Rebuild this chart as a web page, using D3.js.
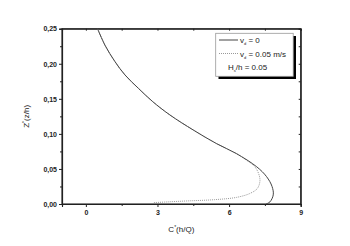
<!DOCTYPE html>
<html>
<head>
<meta charset="utf-8">
<script src="https://cdn.jsdelivr.net/npm/d3@7"></script>
<style>
  body { margin: 0; background: #fff; }
  svg text { font-family: "Liberation Sans", Arial, sans-serif; fill: #222; }
</style>
</head>
<body>
<div id="chart"></div>
<script>
// values: C* (h/Q) against Z* (z/h)
let solidZ = [0.25, 0.2265, 0.203, 0.184, 0.165, 0.146, 0.127, 0.1055, 0.086, 0.072, 0.053, 0.039, 0.025, 0.013, 0.003, 0.0];
let solidC = [0.49, 0.80, 1.22, 1.64, 2.2, 2.8, 3.52, 4.5, 5.48, 6.3, 7.16, 7.57, 7.8, 7.85, 7.71, 7.55];
let dottedZ = [0.25, 0.2265, 0.203, 0.184, 0.165, 0.146, 0.127, 0.1055, 0.086, 0.072, 0.065, 0.053, 0.041, 0.032, 0.022, 0.015, 0.0095, 0.0062, 0.0043, 0.0028, 0.002];
let dottedC = [0.49, 0.80, 1.22, 1.64, 2.2, 2.8, 3.52, 4.5, 5.48, 6.3, 6.62, 7.08, 7.26, 7.29, 7.18, 6.87, 6.32, 5.4, 4.2, 3.3, 2.85];
let xTicks = [0, 3, 6, 9];
let xMinor = [1.5, 4.5, 7.5];
let yTicks = [0, 0.05, 0.10, 0.15, 0.20, 0.25];
let yMinor = [0.025, 0.075, 0.125, 0.175, 0.225];

var w = 350, h = 246;
var margin = { top: 28.7, left: 62, right: 49.3, bottom: 42 };
var width = w - margin.left - margin.right;
var height = h - margin.top - margin.bottom;

var svg = d3.select('#chart').append('svg')
  .attr('width', w)
  .attr('height', h);

var x = d3.scaleLinear().domain([-1, 9]).range([0, width]);
var y = d3.scaleLinear().domain([0, 0.25]).range([height, 0]);

var chart = svg.append('g')
  .attr('transform', 'translate(' + margin.left + ',' + margin.top + ')');

var fmt = function (d) { return d3.format('.2f')(d).replace('.', ','); };

// bottom axis: outward ticks
chart.append('g')
  .attr('transform', 'translate(0,' + height + ')')
  .call(d3.axisBottom(x).tickValues(xTicks).tickSize(3).tickPadding(3).tickFormat(d3.format('d')));
chart.append('g')
  .attr('transform', 'translate(0,' + height + ')')
  .call(d3.axisBottom(x).tickValues(xMinor).tickSize(2).tickFormat(''));

// left axis
chart.append('g')
  .call(d3.axisLeft(y).tickValues(yTicks).tickSize(3).tickPadding(2).tickFormat(fmt));
chart.append('g')
  .call(d3.axisLeft(y).tickValues(yMinor).tickSize(2).tickFormat(''));

// mirrored top / right axes, ticks point inward
chart.append('g')
  .call(d3.axisBottom(x).tickValues(xTicks.concat(xMinor)).tickSize(2).tickFormat(''));
chart.append('g')
  .attr('transform', 'translate(' + width + ',0)')
  .call(d3.axisLeft(y).tickValues(yTicks.concat(yMinor)).tickSize(2).tickFormat(''));

chart.selectAll('.domain').attr('stroke', '#222').attr('stroke-width', 1.1);
chart.selectAll('.tick line').attr('stroke', '#222');
chart.selectAll('.tick text')
  .style('font-size', '7px')
  .style('font-weight', 'bold')
  .attr('fill', '#333');

// close the frame
chart.append('rect')
  .attr('width', width).attr('height', height)
  .attr('fill', 'none').attr('stroke', '#222').attr('stroke-width', 1.1);

var line = d3.line()
  .x(function (d) { return x(d[0]); })
  .y(function (d) { return y(d[1]); })
  .curve(d3.curveCatmullRom);

var clip = chart.append('clipPath').attr('id', 'clip');
clip.append('rect').attr('width', width).attr('height', height);

chart.append('path')
  .datum(dottedC.map(function (c, i) { return [c, dottedZ[i]]; }))
  .attr('clip-path', 'url(#clip)')
  .attr('fill', 'none')
  .attr('stroke', '#999')
  .attr('stroke-width', 1)
  .attr('stroke-dasharray', '1,1')
  .attr('d', line);

chart.append('path')
  .datum(solidC.map(function (c, i) { return [c, solidZ[i]]; }))
  .attr('clip-path', 'url(#clip)')
  .attr('fill', 'none')
  .attr('stroke', '#444')
  .attr('stroke-width', 1)
  .attr('d', line);

// axis titles
var xt = svg.append('text')
  .attr('x', margin.left + width / 2)
  .attr('y', 232)
  .attr('text-anchor', 'middle')
  .style('font-size', '8px');
xt.append('tspan').text('C');
xt.append('tspan').attr('dy', -3).style('font-size', '5px').text('*');
xt.append('tspan').attr('dy', 3).text('(h/Q)');

var yt = svg.append('text')
  .attr('transform', 'translate(29,' + (margin.top + height / 2) + ') rotate(-90)')
  .attr('text-anchor', 'middle')
  .style('font-size', '8px');
yt.append('tspan').text('Z');
yt.append('tspan').attr('dy', -3).style('font-size', '5px').text('*');
yt.append('tspan').attr('dy', 3).text('(z/h)');

// legend
var lg = svg.append('g');
lg.append('rect')
  .attr('x', 218.5).attr('y', 36).attr('width', 77.5).attr('height', 43)
  .attr('fill', '#000');
lg.append('rect')
  .attr('x', 215.7).attr('y', 33.3).attr('width', 77.5).attr('height', 43)
  .attr('fill', '#fff').attr('stroke', '#999').attr('stroke-width', 0.8);

lg.append('line')
  .attr('x1', 219).attr('x2', 238).attr('y1', 40).attr('y2', 40)
  .attr('stroke', '#444');
lg.append('line')
  .attr('x1', 219).attr('x2', 238).attr('y1', 53.5).attr('y2', 53.5)
  .attr('stroke', '#999').attr('stroke-dasharray', '1,1');

var t1 = lg.append('text').attr('x', 240).attr('y', 43).style('font-size', '8px');
t1.append('tspan').text('v');
t1.append('tspan').attr('dy', 2).style('font-size', '4px').text('d');
t1.append('tspan').attr('dy', -2).text(' = 0');

var t2 = lg.append('text').attr('x', 240).attr('y', 56.5).style('font-size', '8px');
t2.append('tspan').text('v');
t2.append('tspan').attr('dy', 2).style('font-size', '4px').text('d');
t2.append('tspan').attr('dy', -2).text(' = 0.05 m/s');

var t3 = lg.append('text').attr('x', 228).attr('y', 70).style('font-size', '8px');
t3.append('tspan').text('H');
t3.append('tspan').attr('dy', 2).style('font-size', '4px').text('s');
t3.append('tspan').attr('dy', -2).text('/h = 0.05');
</script>
</body>
</html>
